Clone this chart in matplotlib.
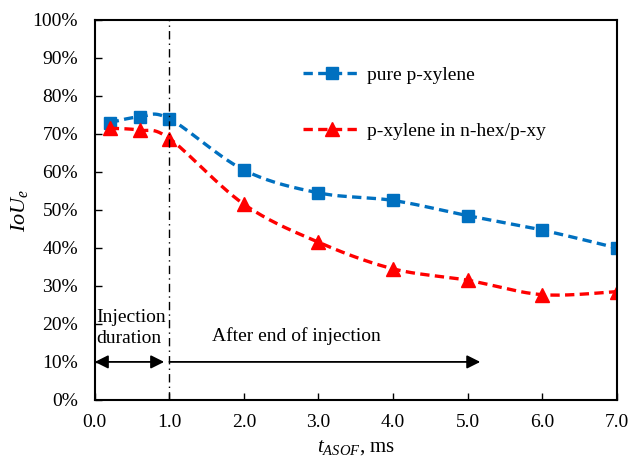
import numpy as np
import matplotlib
matplotlib.use('Agg')
import matplotlib.pyplot as plt
from matplotlib.ticker import FuncFormatter

plt.rcParams['font.family'] = ['Liberation Serif', 'DejaVu Serif']
plt.rcParams['mathtext.fontset'] = 'custom'
plt.rcParams['mathtext.it'] = 'Liberation Serif:italic'
plt.rcParams['mathtext.rm'] = 'Liberation Serif'

# data
t_ms = [0.2, 0.6, 1.0, 2.0, 3.0, 4.0, 5.0, 6.0, 7.0]
iou_pure = [0.73, 0.745, 0.74, 0.605, 0.545, 0.525, 0.485, 0.447, 0.40]
iou_mix = [0.715, 0.71, 0.688, 0.515, 0.415, 0.345, 0.315, 0.277, 0.285]
labels = ['pure p-xylene', 'p-xylene in n-hex/p-xy']


def bezier_smooth(x, y, n=30, tension=1/6):
    # smoothed line between the points, like excel's "smoothed line"
    x = np.asarray(x, float)
    y = np.asarray(y, float)
    px = np.concatenate([[x[0]], x, [x[-1]]])
    py = np.concatenate([[y[0]], y, [y[-1]]])
    xs, ys = [], []
    t = np.linspace(0, 1, n)
    for i in range(1, len(px)-2):
        p1 = np.array([px[i], py[i]])
        p2 = np.array([px[i+1], py[i+1]])
        p0 = np.array([px[i-1], py[i-1]])
        p3 = np.array([px[i+2], py[i+2]])
        c1 = p1 + (p2 - p0) * tension
        c2 = p2 - (p3 - p1) * tension
        b = ((1-t)**3)[:, None]*p1 + (3*(1-t)**2*t)[:, None]*c1 \
            + (3*(1-t)*t**2)[:, None]*c2 + (t**3)[:, None]*p2
        xs.extend(b[:, 0])
        ys.extend(b[:, 1])
    return np.array(xs), np.array(ys)


fig = plt.figure(figsize=(6.28, 4.65), dpi=100)
ax = fig.add_axes([0.151, 0.140, 0.831, 0.817])

blue = '#0070C0'
red = '#FF0000'
dash = (0, (2.8, 1.6))
lw = 2.4

sx, sy = bezier_smooth(t_ms, iou_pure)
ax.plot(sx, sy, color=blue, lw=lw, ls=dash)
ax.plot(t_ms, iou_pure, ls='none', marker='s', ms=8, color=blue)
sx, sy = bezier_smooth(t_ms, iou_mix)
ax.plot(sx, sy, color=red, lw=lw, ls=dash)
ax.plot(t_ms, iou_mix, ls='none', marker='^', ms=10, color=red)

# legend handles
ax.plot([], [], color=blue, lw=lw, ls=dash, marker='s', ms=8, label=labels[0])
ax.plot([], [], color=red, lw=lw, ls=dash, marker='^', ms=10, label=labels[1])
handles, labs = ax.get_legend_handles_labels()
ax.legend(handles, labs, loc='center left', bbox_to_anchor=(0.365, 0.781), frameon=False,
          fontsize=14, labelspacing=1.95, handlelength=3.0, handletextpad=0.3)

ax.axvline(1.0, color='black', lw=1, ls=(0, (6, 3, 1, 3)))

ax.annotate('', xy=(0.0, 0.10), xytext=(0.93, 0.10),
            arrowprops=dict(arrowstyle='<|-|>', color='black', lw=1.3, mutation_scale=20,
                            shrinkA=0, shrinkB=0))
ax.annotate('', xy=(5.17, 0.10), xytext=(1.0, 0.10),
            arrowprops=dict(arrowstyle='-|>', color='black', lw=1.3, mutation_scale=20,
                            shrinkA=0, shrinkB=0))
ax.text(0.02, 0.19, 'Injection\nduration', fontsize=14, va='center', ha='left', linespacing=1.3)
ax.text(1.57, 0.168, 'After end of injection', fontsize=14, va='center', ha='left')

ax.set_xlim(0, 7)
ax.set_ylim(0, 1)
ax.set_xticks(np.arange(0, 7.01, 1))
ax.xaxis.set_major_formatter(FuncFormatter(lambda v, p: '%.1f' % v))
ax.set_yticks(np.arange(0, 1.01, 0.1))
ax.yaxis.set_major_formatter(FuncFormatter(lambda v, p: '%d%%' % round(v*100)))
ax.tick_params(direction='in', labelsize=14, length=5, width=1)
ax.tick_params(axis='x', pad=10)
ax.tick_params(axis='y', pad=12)
for s in ax.spines.values():
    s.set_linewidth(1.5)

ax.set_xlabel('$t_{ASOF}$, ms', fontsize=15, labelpad=5)
ax.set_ylabel('$IoU_e$', fontsize=16, labelpad=2)

fig.savefig('out.png', dpi=100)
